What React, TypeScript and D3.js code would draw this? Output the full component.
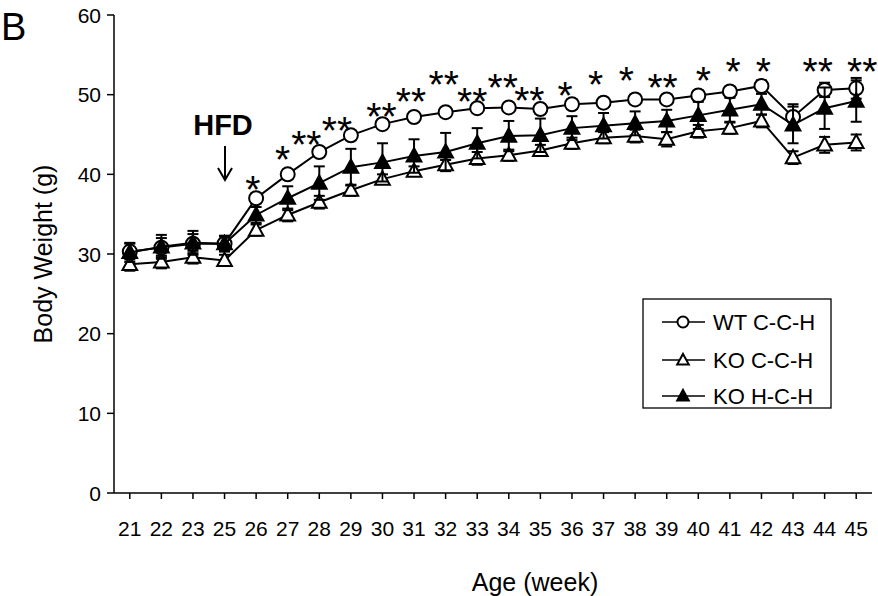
import React from "react";
import * as d3 from "d3";

const weeks = ["21","22","23","25","26","27","28","29","30","31","32","33","34","35","36","37","38","39","40","41","42","43","44","45"];

const wtMean = [30.3,30.8,31.3,31.3,37.0,40.0,42.8,44.9,46.3,47.2,47.8,48.3,48.4,48.2,48.8,49.0,49.4,49.4,49.9,50.4,51.1,47.2,50.6,50.8];
const wtSem = [1.0,1.2,1.2,0.9,0.6,0.6,0.6,0.6,0.6,0.5,0.5,0.5,0.5,0.6,0.6,0.6,0.6,0.6,0.6,0.6,0.7,1.6,0.9,1.3];

const koCMean = [28.7,29.0,29.6,29.2,33.0,34.9,36.5,38.0,39.4,40.4,41.2,42.0,42.4,43.0,43.9,44.6,44.8,44.4,45.4,45.8,46.7,42.1,43.7,44.0];
const koCSem = [0.8,0.8,0.8,0.7,0.7,0.8,0.8,0.7,0.6,0.6,0.6,0.8,0.7,0.7,0.7,0.7,0.8,0.9,0.8,0.7,0.8,0.8,1.0,1.0];

const koHMean = [30.2,30.9,31.4,31.3,34.9,37.0,38.9,40.9,41.5,42.3,42.8,43.9,44.8,44.9,45.8,46.1,46.4,46.7,47.4,48.1,48.8,46.2,48.3,49.2];
const koHSem = [1.2,1.5,1.5,1.0,1.0,1.5,2.1,2.3,2.4,2.1,2.4,1.9,1.9,2.1,1.5,1.6,1.5,1.4,1.7,1.5,1.3,2.3,2.6,2.6];

const seriesNames = ["WT C-C-H", "KO C-C-H", "KO H-C-H"];

const starWeeks = ["26","27","28","29","30","31","32","33","34","35","36","37","38","39","40","41","42","44","45"];
const starLabels = ["*","*","**","**","**","**","**","**","**","**","*","*","*","**","*","*","*","**","**"];
const starShift = [-0.1,-0.16,-0.41,-0.44,-0.03,-0.1,-0.06,-0.16,-0.19,-0.35,-0.22,-0.25,-0.28,-0.13,0.16,0.1,0.06,-0.22,0.19];
const starLevel = [38.9,42.7,44.6,46.4,48.1,50.0,52.1,50.0,51.8,50.1,50.8,52.1,52.6,51.8,52.6,53.7,53.7,53.7,53.7];

const yTicks = [0,10,20,30,40,50,60];

const FONT = "'Liberation Sans', Arial, Helvetica, sans-serif";

type Kind = "circle" | "triOpen" | "triFilled";

function Marker({ kind, x, y, s }: { kind: Kind; x: number; y: number; s: number }) {
  if (kind === "circle") {
    return <circle cx={x} cy={y} r={s / 2} fill="white" stroke="black" strokeWidth={2} />;
  }
  const h = s * 0.95;
  const w = s * 1.05;
  const d = `M${x},${y - h * 0.58}L${x + w / 2},${y + h * 0.42}L${x - w / 2},${y + h * 0.42}Z`;
  return (
    <path
      d={d}
      fill={kind === "triFilled" ? "black" : "white"}
      stroke="black"
      strokeWidth={2}
      strokeLinejoin="miter"
    />
  );
}

export default function App() {
  const W = 878, H = 596;
  const x = d3.scalePoint<string>().domain(weeks).range([114, 872]).padding(0.5);
  const y = d3.scaleLinear().domain([0, 60]).range([493, 15]);
  const step = x.step();

  const series: { mean: number[]; sem: number[]; kind: Kind }[] = [
    { mean: wtMean, sem: wtSem, kind: "circle" },
    { mean: koCMean, sem: koCSem, kind: "triOpen" },
    { mean: koHMean, sem: koHSem, kind: "triFilled" },
  ];

  const line = d3
    .line<number>()
    .x((_, i) => x(weeks[i]) as number)
    .y((d) => y(d));

  const capW = 11;
  const starFs = 39;

  const legendRows = [322, 360, 396];

  return (
    <svg
      width={W}
      height={H}
      viewBox={`0 0 ${W} ${H}`}
      style={{ position: "absolute", left: 0, top: 0, background: "white" }}
      fontFamily={FONT}
    >
      <rect x={0} y={0} width={W} height={H} fill="white" />
      <text x={1} y={40} fontSize={38} fill="black">B</text>

      {/* Y axis */}
      <line x1={114} x2={114} y1={y(60)} y2={y(0)} stroke="black" strokeWidth={1.5} />
      {yTicks.map((t) => (
        <g key={"yt" + t}>
          <line x1={107} x2={114} y1={y(t)} y2={y(t)} stroke="black" strokeWidth={1.5} />
          <text x={101} y={y(t) + 7.5} fontSize={21} textAnchor="end" fill="black">{t}</text>
        </g>
      ))}
      <text
        transform={`translate(52,${(y(0) + y(60)) / 2}) rotate(-90)`}
        fontSize={25}
        textAnchor="middle"
        fill="black"
      >
        Body Weight (g)
      </text>

      {/* X axis */}
      <line x1={114} x2={872} y1={y(0)} y2={y(0)} stroke="black" strokeWidth={1.5} />
      {weeks.map((w) => (
        <g key={"xt" + w}>
          <line x1={x(w)} x2={x(w)} y1={y(0)} y2={y(0) + 6} stroke="black" strokeWidth={1.5} />
          <text x={x(w)} y={536} fontSize={21} textAnchor="middle" fill="black">{w}</text>
        </g>
      ))}
      <text x={535} y={591} fontSize={25} textAnchor="middle" fill="black">Age (week)</text>

      {/* Series */}
      {series.map((s, si) => (
        <g key={"s" + si}>
          <path d={line(s.mean) || ""} fill="none" stroke="black" strokeWidth={2} />
          {s.mean.map((m, i) => {
            const cx = x(weeks[i]) as number;
            const y1 = y(m + s.sem[i]);
            const y2 = y(m - s.sem[i]);
            return (
              <g key={"e" + i}>
                <line x1={cx} x2={cx} y1={y1} y2={y2} stroke="black" strokeWidth={2} />
                <line x1={cx - capW / 2} x2={cx + capW / 2} y1={y1} y2={y1} stroke="black" strokeWidth={2} />
                <line x1={cx - capW / 2} x2={cx + capW / 2} y1={y2} y2={y2} stroke="black" strokeWidth={2} />
              </g>
            );
          })}
          {s.mean.map((m, i) => (
            <Marker key={"m" + i} kind={s.kind} x={x(weeks[i]) as number} y={y(m)} s={14} />
          ))}
        </g>
      ))}

      {/* Stars */}
      {starWeeks.map((w, i) => (
        <text
          key={"st" + i}
          x={(x(w) as number) + starShift[i] * step}
          y={y(starLevel[i]) + 0.52 * starFs}
          fontSize={starFs}
          textAnchor="middle"
          fill="black"
        >
          {starLabels[i]}
        </text>
      ))}

      {/* HFD annotation */}
      <text x={223} y={135} fontSize={29} fontWeight="bold" textAnchor="middle" fill="black">HFD</text>
      <line x1={225} x2={225} y1={146} y2={179} stroke="black" strokeWidth={2} />
      <path d="M218,168L225,180L232,168" fill="none" stroke="black" strokeWidth={2} />

      {/* Legend */}
      <rect x={643} y={299} width={188} height={109} fill="white" stroke="black" strokeWidth={1.3} />
      {seriesNames.map((n, i) => (
        <g key={"lg" + i}>
          <line x1={662} x2={705} y1={legendRows[i]} y2={legendRows[i]} stroke="black" strokeWidth={1.5} />
          <Marker kind={series[i].kind} x={683} y={legendRows[i]} s={11} />
          <text x={713} y={legendRows[i] + 8} fontSize={22} fill="black">{n}</text>
        </g>
      ))}
    </svg>
  );
}
